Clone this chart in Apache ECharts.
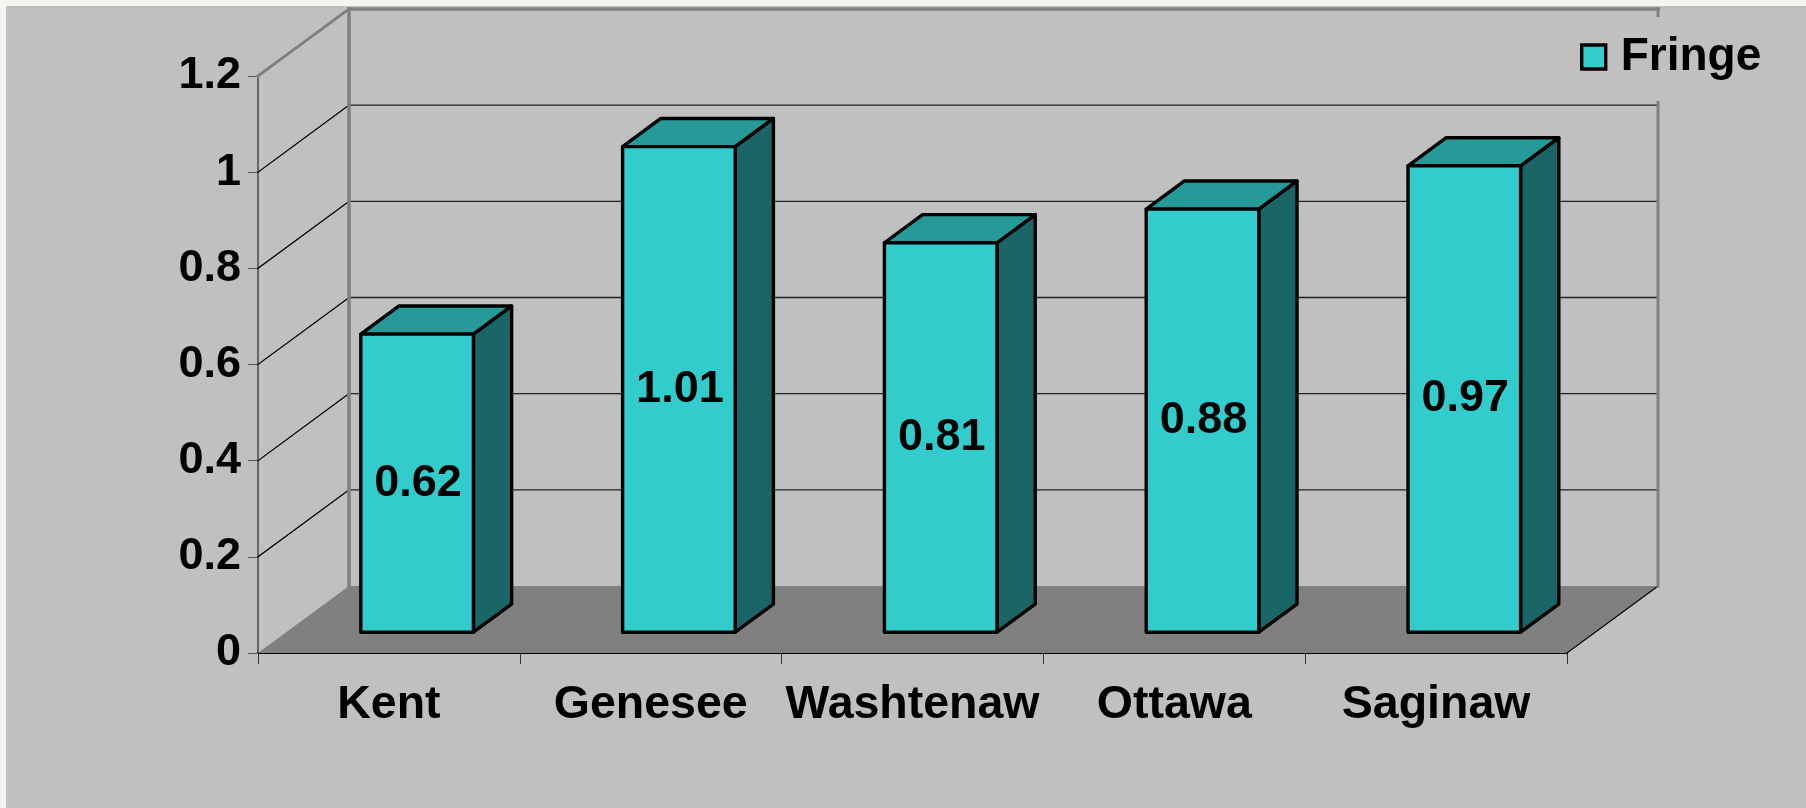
<!DOCTYPE html>
<html><head><meta charset="utf-8">
<style>html,body{margin:0;padding:0;background:#f4f4f0}#c{width:1806px;height:808px}</style>
<script src="https://cdn.jsdelivr.net/npm/echarts@6/dist/echarts.min.js"></script>
</head><body><div id="c"></div>
<script>
const categories = ['Kent','Genesee','Washtenaw','Ottawa','Saginaw'];
const fringeValues = [0.62,1.01,0.81,0.88,0.97];
const yTicks = [0,0.2,0.4,0.6,0.8,1,1.2];

const FONT = 'bold 45px "Liberation Sans", Arial, sans-serif';
const WALL_DX = 91, WALL_DY = -67;      // projected depth of the whole chart box
const NEAR = 0.31, FAR = 0.73;          // depth range the bars occupy
const GREY = '#808080';

function renderWalls(params, api) {
  const v = api.value(1);
  const cs = params.coordSys;
  const L = cs.x, R = cs.x + cs.width;
  const y = api.coord([0, v])[1];
  const kids = [];
  const line = (x1,y1,x2,y2,stroke,lineWidth,z2) => kids.push({type:'line',z2:z2||0,shape:{x1,y1,x2,y2},style:{stroke,lineWidth,lineCap:'square'}});
  if (v === 0) {
    kids.push({type:'polygon',z2:-1,shape:{points:[[L,y],[R,y],[R+WALL_DX,y+WALL_DY],[L+WALL_DX,y+WALL_DY]]},style:{fill:GREY}});
    line(R,y,R+WALL_DX,y+WALL_DY,'#000',1.2,1);
  } else if (v === yTicks[yTicks.length-1]) {
    const y0 = api.coord([0,0])[1];
    line(L,y,L+WALL_DX,y+WALL_DY,GREY,3,1);
    line(L+WALL_DX,y+WALL_DY,R+WALL_DX,y+WALL_DY,GREY,3.5,1);
    line(L+WALL_DX,y+WALL_DY,L+WALL_DX,y0+WALL_DY,GREY,3.5,1);
    line(R+WALL_DX,y+WALL_DY,R+WALL_DX,y0+WALL_DY,GREY,3,1);
  } else {
    line(L,y,L+WALL_DX,y+WALL_DY,'#000',1.2);
    line(L+WALL_DX,y+WALL_DY,R+WALL_DX,y+WALL_DY,'#222',1.3);
  }
  return {type:'group',children:kids};
}

function renderBar(params, api) {
  const idx = api.value(0), val = api.value(1);
  const c = api.coord([idx, val]), b = api.coord([idx, 0]);
  const w = api.size([1,0])[0] * 0.43;
  const nx = WALL_DX*NEAR, ny = WALL_DY*NEAR;
  const ddx = WALL_DX*(FAR-NEAR), ddy = WALL_DY*(FAR-NEAR);
  const x0 = c[0] - w/2 + nx, x1 = x0 + w;
  const top = c[1] + ny, bot = b[1] + ny;
  const style = fill => ({fill,stroke:'#000',lineWidth:3.4,lineJoin:'round'});
  return {type:'group',children:[
    {type:'polygon',shape:{points:[[x1,top],[x1+ddx,top+ddy],[x1+ddx,bot+ddy],[x1,bot]]},style:style('#1a6666')},
    {type:'polygon',shape:{points:[[x0,top],[x0+ddx,top+ddy],[x1+ddx,top+ddy],[x1,top]]},style:style('#269999')},
    {type:'rect',shape:{x:x0,y:top,width:w,height:bot-top},style:style('#33cccc')},
    {type:'text',z2:5,style:{text:String(val),x:(x0+x1)/2+1,y:(top+bot)/2,align:'center',verticalAlign:'middle',font:FONT,fill:'#000'}}
  ]};
}

const chart = echarts.init(document.getElementById('c'),null,{renderer:'canvas'});
chart.setOption({
  animation:false,
  backgroundColor:'#f4f4f0',
  textStyle:{fontFamily:'"Liberation Sans", Arial, sans-serif'},
  graphic:[{type:'rect',z:-10,silent:true,shape:{x:6,y:6,width:1800,height:802},style:{fill:'#c0c0c0'}}],
  grid:{left:258,right:239,top:76,bottom:155},
  legend:{
    data:['Fringe'],left:1566,top:17,padding:[17,10,21,14],itemGap:0,
    backgroundColor:'#c0c0c0',itemWidth:24,itemHeight:24,icon:'rect',
    itemStyle:{color:'#33cccc',borderColor:'#000',borderWidth:3.4},
    textStyle:{fontSize:46,fontWeight:'bold',color:'#000',padding:[0,0,0,10],fontFamily:'"Liberation Sans", Arial, sans-serif'}
  },
  xAxis:{type:'category',data:categories,
    axisLine:{lineStyle:{color:'#000',width:2}},
    axisTick:{show:true,alignWithLabel:false,length:11,lineStyle:{color:'#333',width:1}},
    axisLabel:{interval:0,margin:29,fontSize:46.5,fontWeight:'bold',color:'#000'},
    splitLine:{show:false}},
  yAxis:{type:'value',min:0,max:1.2,interval:0.2,
    axisLine:{show:true,lineStyle:{color:'#666',width:2}},
    axisTick:{show:true,length:10,lineStyle:{color:'#555',width:1}},
    axisLabel:{margin:17,fontSize:45,fontWeight:'bold',color:'#000'},
    splitLine:{show:false}},
  series:[
    {type:'custom',name:'walls',z:1,silent:true,clip:false,renderItem:renderWalls,
     data:yTicks.map(t=>[0,t]),encode:{x:0,y:1}},
    {type:'custom',name:'Fringe',z:3,clip:false,renderItem:renderBar,
     itemStyle:{color:'#33cccc'},
     data:fringeValues.map((v,i)=>[i,v]),encode:{x:0,y:1}}
  ]
});
</script></body></html>
